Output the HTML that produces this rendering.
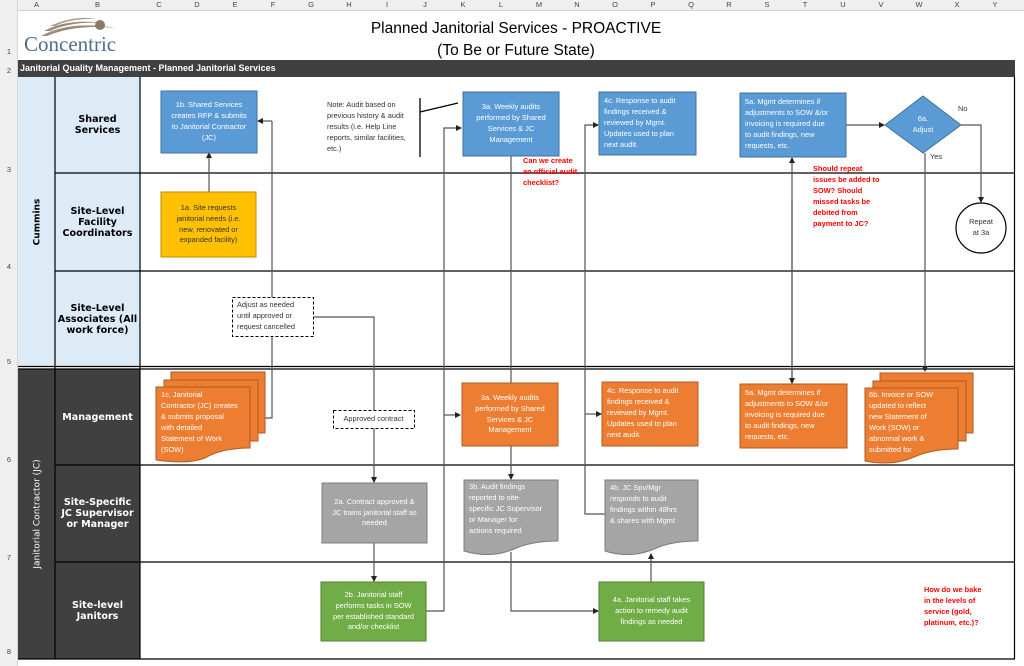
<!DOCTYPE html>
<html><head><meta charset="utf-8"><style>
*{margin:0;padding:0;box-sizing:border-box}
body{width:1024px;height:666px;position:relative;overflow:hidden;background:#fff;font-family:"Liberation Sans",sans-serif}
.a{position:absolute}
.t{position:absolute;font-size:7.4px;line-height:10.9px;color:#fff;display:flex;align-items:center;justify-content:center;text-align:center}
.l{text-align:left;justify-content:flex-start;align-items:flex-start}
.lane{position:absolute;left:55px;width:85px;display:flex;align-items:center;justify-content:center;text-align:center;font-weight:bold;font-family:"DejaVu Sans",sans-serif;font-size:9.6px;line-height:11px}
.red{position:absolute;color:#f00;font-weight:bold;font-size:7.4px;line-height:10.9px}
.col{position:absolute;top:0;font-size:7.5px;color:#444;width:38px;text-align:center;line-height:10px}
.row{position:absolute;left:0;width:18px;text-align:center;font-size:7.5px;color:#444}
</style></head><body>
<div class="a" style="left:0;top:0;width:1024px;height:11px;background:#efefef;border-bottom:1px solid #d4d4d4"></div>
<div class="a" style="left:0;top:0;width:18px;height:666px;background:#efefef;border-right:1px solid #d4d4d4"></div>
<div class="col" style="left:18px;width:37px">A</div><div class="col" style="left:55px;width:85px">B</div>
<div class="col" style="left:140px">C</div><div class="col" style="left:178px">D</div><div class="col" style="left:216px">E</div><div class="col" style="left:254px">F</div><div class="col" style="left:292px">G</div><div class="col" style="left:330px">H</div><div class="col" style="left:368px">I</div><div class="col" style="left:406px">J</div><div class="col" style="left:444px">K</div><div class="col" style="left:482px">L</div><div class="col" style="left:520px">M</div><div class="col" style="left:558px">N</div><div class="col" style="left:596px">O</div><div class="col" style="left:634px">P</div><div class="col" style="left:672px">Q</div><div class="col" style="left:710px">R</div><div class="col" style="left:748px">S</div><div class="col" style="left:786px">T</div><div class="col" style="left:824px">U</div><div class="col" style="left:862px">V</div><div class="col" style="left:900px">W</div><div class="col" style="left:938px">X</div><div class="col" style="left:976px">Y</div>
<div class="row" style="top:47px">1</div><div class="row" style="top:66px">2</div><div class="row" style="top:165px">3</div><div class="row" style="top:262px">4</div><div class="row" style="top:357px">5</div><div class="row" style="top:455px">6</div><div class="row" style="top:553px">7</div><div class="row" style="top:647px">8</div>

<!-- logo -->
<svg class="a" style="left:20px;top:14px" width="100" height="24"><path d="M21 22 Q50 6 96 14 Q55 10 27 22Z" fill="#9a8b78"/><path d="M24 17 Q48 4 84 9 Q52 7 30 17Z" fill="#9a8b78"/><path d="M30 12 Q55 1 76 5 Q52 4 35 12Z" fill="#a89a87"/><circle cx="80" cy="11" r="5" fill="#8a7a68"/></svg>
<div class="a" style="left:24px;top:32px;font-family:'Liberation Serif',serif;font-size:21px;color:#4d6e8c">Concentric</div>
<div class="a" style="left:300px;width:432px;top:18px;text-align:center;font-size:15.5px;line-height:22px;color:#000">Planned Janitorial Services - PROACTIVE<br>(To Be or Future State)</div>
<div class="a" style="left:18px;top:60px;width:997px;height:17px;background:#404040;color:#fff;font-weight:bold;font-size:9px;line-height:17px;padding-left:2px">Janitorial Quality Management - Planned Janitorial Services</div>

<div class="a" style="left:18px;top:77px;width:122px;height:290px;background:#ddebf7"></div>
<div class="a" style="left:18px;top:369px;width:122px;height:290px;background:#404040"></div>
<div class="a" style="left:20px;top:77px;width:35px;height:290px;display:flex;align-items:center;justify-content:center"><div style="transform:rotate(-90deg);font-weight:bold;font-size:9px;white-space:nowrap;color:#000;font-family:'DejaVu Sans',sans-serif">Cummins</div></div>
<div class="a" style="left:20px;top:369px;width:35px;height:290px;display:flex;align-items:center;justify-content:center"><div style="transform:rotate(-90deg);font-size:9px;white-space:nowrap;color:#fff;font-family:'DejaVu Sans',sans-serif">Janitorial Contractor (JC)</div></div>
<div class="lane" style="top:77px;height:96px">Shared<br>Services</div>
<div class="lane" style="top:173px;height:98px">Site-Level<br>Facility<br>Coordinators</div>
<div class="lane" style="top:271px;height:96px">Site-Level<br>Associates (All<br>work force)</div>
<div class="lane" style="top:369px;height:96px;color:#fff">Management</div>
<div class="lane" style="top:465px;height:97px;color:#fff">Site-Specific<br>JC Supervisor<br>or Manager</div>
<div class="lane" style="top:562px;height:97px;color:#fff">Site-level<br>Janitors</div>

<svg class="a" style="left:0;top:0" width="1024" height="666">
<defs><marker id="m" markerWidth="6" markerHeight="6" refX="5" refY="3" orient="auto" markerUnits="userSpaceOnUse"><path d="M0,0 L6,3 L0,6Z" fill="#222"/></marker></defs>
<g stroke="#000" stroke-width="1.2" fill="none">
<path d="M55 77V659M140 77V659M1014.5 77V659M55 173H1015M55 271H1015M18 366.5H1015M18 369H1015M55 465H1015M55 562H1015M18 659H1015"/>
</g>
<g stroke="#555" stroke-width="1.2" fill="none">
<path d="M209 192V153" marker-end="url(#m)"/>
<path d="M272 121H258" marker-end="url(#m)"/>
<path d="M272 121V418H259" marker-end="url(#m)"/>
<path d="M313 317H374V411"/>
<path d="M374 428V482" marker-end="url(#m)"/>
<path d="M374 543V581" marker-end="url(#m)"/>
<path d="M426 611H444V128H461" marker-end="url(#m)"/>
<path d="M444 415H460" marker-end="url(#m)"/>
<path d="M511 156V383"/>
<path d="M511 446V479" marker-end="url(#m)"/>
<path d="M511 552V611H598" marker-end="url(#m)"/>
<path d="M651 582V554" marker-end="url(#m)"/>
<path d="M605 514H585V125H598" marker-end="url(#m)"/>
<path d="M585 414H601" marker-end="url(#m)"/>
<path d="M792 384V158" marker-end="url(#m)"/>
<path d="M792 200V383" marker-end="url(#m)"/>
<path d="M846 125H884" marker-end="url(#m)"/>
<path d="M961 125H981V202" marker-end="url(#m)"/>
<path d="M925 153V371" marker-end="url(#m)"/>
</g>
<path d="M420 98V157M420 112L458 103" stroke="#000" stroke-width="1.3"/>
<g stroke-width="1">
<rect x="161" y="91" width="96" height="62" fill="#5b9bd5" stroke="#41719c"/>
<rect x="161" y="192" width="95" height="65" fill="#ffc000" stroke="#bc8c00"/>
<rect x="463" y="92" width="96" height="64" fill="#5b9bd5" stroke="#41719c"/>
<rect x="599" y="92" width="97" height="63" fill="#5b9bd5" stroke="#41719c"/>
<rect x="740" y="93" width="106" height="64" fill="#5b9bd5" stroke="#41719c"/>
<path d="M923 96L961 125L923 153L885 125Z" fill="#5b9bd5" stroke="#41719c"/>
<circle cx="981" cy="228" r="25" fill="#fff" stroke="#000" stroke-width="1.2"/>
<rect x="232.5" y="297.5" width="81" height="39" fill="#fff" stroke="#000" stroke-dasharray="3,2"/>
<rect x="333.5" y="410.5" width="81" height="18" fill="#fff" stroke="#000" stroke-dasharray="3,2"/>
<rect x="171" y="372" width="94" height="61" fill="#ed7d31" stroke="#ae5a21"/>
<rect x="164" y="380" width="94" height="61" fill="#ed7d31" stroke="#ae5a21"/>
<path d="M156 387H250V448C230 448 215 452 205 458C190 464 170 462 156 460Z" fill="#ed7d31" stroke="#ae5a21"/>
<rect x="462" y="383" width="96" height="63" fill="#ed7d31" stroke="#ae5a21"/>
<rect x="602" y="382" width="96" height="64" fill="#ed7d31" stroke="#ae5a21"/>
<rect x="740" y="384" width="107" height="64" fill="#ed7d31" stroke="#ae5a21"/>
<rect x="880" y="373" width="93" height="60" fill="#ed7d31" stroke="#ae5a21"/>
<rect x="873" y="381" width="93" height="60" fill="#ed7d31" stroke="#ae5a21"/>
<path d="M865 388H958V449C938 449 925 452 914 457C898 464 880 464 865 461Z" fill="#ed7d31" stroke="#ae5a21"/>
<path d="M464 480H558V541C538 541 525 544 514 549C498 556 480 556 464 551Z" fill="#a5a5a5" stroke="#7c7c7c"/>
<path d="M605 480H698V541C678 541 665 544 654 549C638 556 620 556 605 551Z" fill="#a5a5a5" stroke="#7c7c7c"/>
<rect x="322" y="483" width="105" height="60" fill="#a5a5a5" stroke="#7c7c7c"/>
<rect x="321" y="582" width="105" height="59" fill="#70ad47" stroke="#507e32"/>
<rect x="599" y="582" width="105" height="59" fill="#70ad47" stroke="#507e32"/>
</g>
</svg>

<div class="t" style="left:161px;top:91px;width:96px;height:62px">1b. Shared Services<br>creates RFP &amp; submits<br>to Janitorial Contractor<br>(JC)</div>
<div class="t" style="left:161px;top:192px;width:95px;height:65px;color:#333">1a. Site requests<br>janitorial needs (i.e.<br>new, renovated or<br>expanded facility)</div>
<div class="a" style="left:327px;top:100px;font-size:7.4px;line-height:10.9px;color:#333">Note: Audit based on<br>previous history &amp; audit<br>results (i.e. Help Line<br>reports, similar facilities,<br>etc.)</div>
<div class="t" style="left:463px;top:92px;width:96px;height:64px">3a. Weekly audits<br>performed by Shared<br>Services &amp; JC<br>Management</div>
<div class="t l" style="left:604px;top:96px;width:92px;height:60px">4c. Response to audit<br>findings received &amp;<br>reviewed by Mgmt.<br>Updates used to plan<br>next audit.</div>
<div class="t l" style="left:745px;top:97px;width:100px;height:60px">5a. Mgmt determines if<br>adjustments to SOW &amp;/or<br>invoicing is required due<br>to audit findings, new<br>requests, etc.</div>
<div class="t" style="left:885px;top:110px;width:76px;height:30px">6a.<br>Adjust</div>
<div class="a" style="left:958px;top:104px;font-size:7.4px;color:#333">No</div>
<div class="a" style="left:930px;top:152px;font-size:7.4px;color:#333">Yes</div>
<div class="t" style="left:956px;top:210px;width:50px;height:36px;color:#333">Repeat<br>at 3a</div>
<div class="red" style="left:523px;top:156px">Can we create<br>an official audit<br>checklist?</div>
<div class="red" style="left:813px;top:164px">Should repeat<br>issues be added to<br>SOW? Should<br>missed tasks be<br>debited from<br>payment to JC?</div>
<div class="red" style="left:924px;top:585px">How do we bake<br>in the levels of<br>service (gold,<br>platinum, etc.)?</div>
<div class="a" style="left:237px;top:300px;font-size:7.4px;line-height:10.9px;color:#333">Adjust as needed<br>until approved or<br>request cancelled</div>
<div class="t" style="left:333px;top:410px;width:81px;height:18px;color:#333">Approved contract</div>
<div class="t l" style="left:161px;top:390px;width:90px;height:70px">1c. Janitorial<br>Contractor (JC) creates<br>&amp; submits proposal<br>with detailed<br>Statement of Work<br>(SOW)</div>
<div class="t" style="left:462px;top:383px;width:96px;height:63px">3a. Weekly audits<br>performed by Shared<br>Services &amp; JC<br>Management</div>
<div class="t l" style="left:607px;top:386px;width:92px;height:60px">4c. Response to audit<br>findings received &amp;<br>reviewed by Mgmt.<br>Updates used to plan<br>next audit.</div>
<div class="t l" style="left:745px;top:388px;width:100px;height:60px">5a. Mgmt determines if<br>adjustments to SOW &amp;/or<br>invoicing is required due<br>to audit findings, new<br>requests, etc.</div>
<div class="t l" style="left:869px;top:390px;width:90px;height:70px">6b. Invoice or SOW<br>updated to reflect<br>new Statement of<br>Work (SOW) or<br>abnormal work &amp;<br>submitted for</div>
<div class="t l" style="left:469px;top:482px;width:90px;height:60px">3b. Audit findings<br>reported to site-<br>specific JC Supervisor<br>or Manager for<br>actions required</div>
<div class="t l" style="left:610px;top:483px;width:90px;height:60px">4b. JC Spv/Mgr<br>responds to audit<br>findings within 48hrs<br>&amp; shares with Mgmt</div>
<div class="t" style="left:322px;top:483px;width:105px;height:60px">2a. Contract approved &amp;<br>JC trains janitorial staff as<br>needed</div>
<div class="t" style="left:321px;top:582px;width:105px;height:59px">2b. Janitorial staff<br>performs tasks in SOW<br>per established standard<br>and/or checklist</div>
<div class="t" style="left:599px;top:582px;width:105px;height:59px">4a. Janitorial staff takes<br>action to remedy audit<br>findings as needed</div>
</body></html>
